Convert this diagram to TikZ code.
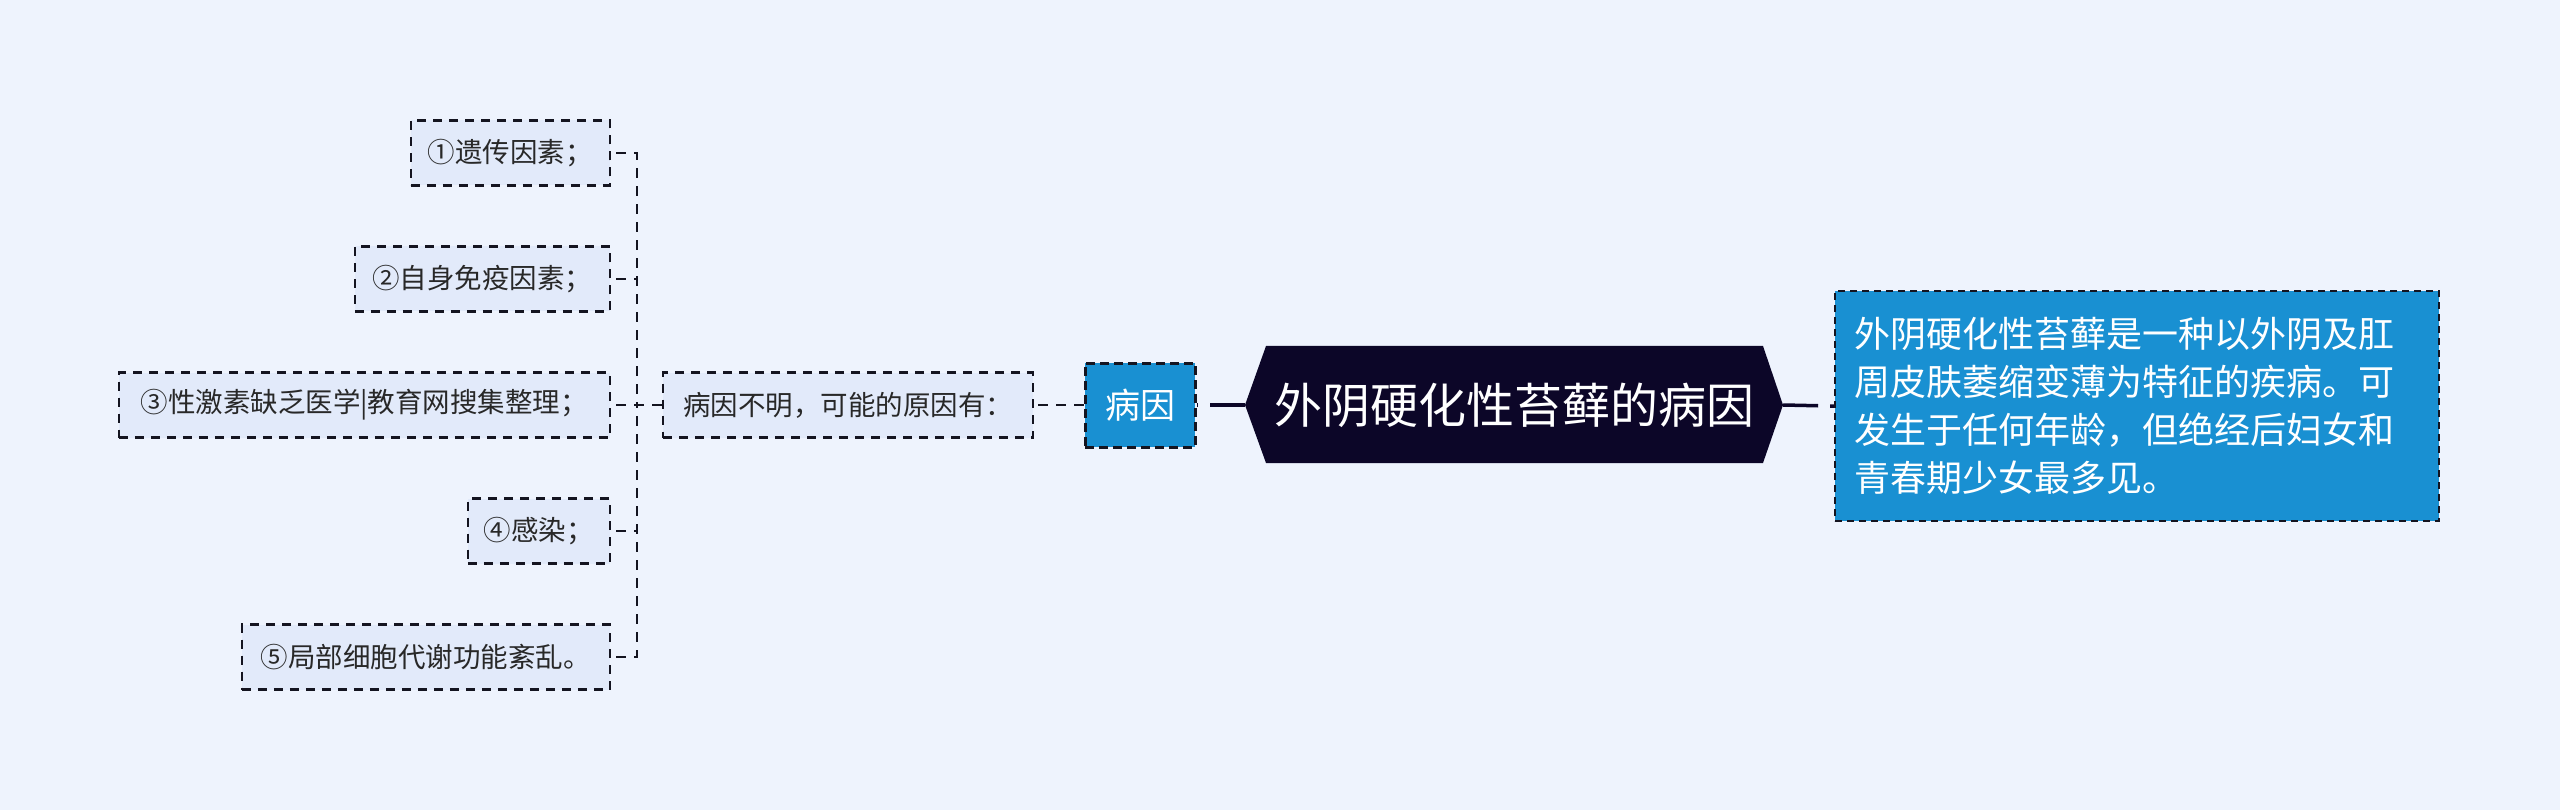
\documentclass[tikz,border=0pt]{standalone}
\usepackage{fontspec}
\setmainfont{Noto Sans CJK SC}
\newfontfamily\cjk{Noto Sans CJK SC}
\usetikzlibrary{calc}
\definecolor{bgc}{RGB}{238,243,253}
\definecolor{leaff}{RGB}{226,234,250}
\definecolor{bluef}{RGB}{25,144,210}
\definecolor{rootf}{RGB}{12,6,40}
\definecolor{linec}{RGB}{20,20,32}
\definecolor{leaft}{RGB}{40,40,40}
\begin{document}
\begin{tikzpicture}[x=1pt,y=-1pt,
  leaf/.style={draw=linec, line width=2.5pt, dash pattern=on 9pt off 7pt, fill=leaff,
    minimum height=65pt, inner sep=0pt, text=leaft,
    font=\cjk\fontsize{27.5pt}{33pt}\selectfont},
  conn/.style={draw=linec, line width=2.5pt, dash pattern=on 10pt off 8pt},
  rootconn/.style={draw=rootf, line width=3.5pt, dash pattern=on 35pt off 12pt},
  bluebox/.style={fill=bluef, text=white, draw=linec},
]
\fill[bgc] (0,0) rectangle (2560,810);
\useasboundingbox (0,0) rectangle (2560,810);

% root hexagon
\fill[rootf] (1245,405) -- (1266,346) -- (1763,346) -- (1783,405) -- (1763,463) -- (1266,463) -- cycle;
\node[text=white, minimum width=538pt, minimum height=117pt, inner sep=0pt,
  font=\cjk\fontsize{48pt}{56pt}\selectfont] (title) at (1514,405) {外阴硬化性苔藓的病因};

% 病因
\node[bluebox, line width=3pt, dash pattern=on 9pt off 5pt, minimum width=110pt, minimum height=84pt,
  inner sep=0pt, font=\cjk\fontsize{35pt}{40pt}\selectfont] (bing) at (1140,405) {病因};

% description box
\node[bluebox, line width=2.2pt, dash pattern=on 7pt off 5pt, anchor=north west,
  text width=566pt, inner xsep=19pt, inner ysep=0pt, minimum height=230pt, align=left,
  font=\cjk\fontsize{36pt}{48pt}\selectfont] (desc) at (1834,290)
  {外阴硬化性苔藓是一种以外阴及肛\\周皮肤萎缩变薄为特征的疾病。可\\发生于任何年龄，但绝经后妇女和\\青春期少女最多见。};

% middle
\node[leaf, minimum width=370pt] (mid) at (848,405) {病因不明，可能的原因有：};

% children
\node[leaf, minimum width=199pt, anchor=east] (c1) at (611,153) {①遗传因素；};
\node[leaf, minimum width=255pt, anchor=east] (c2) at (611,279) {②自身免疫因素；};
\node[leaf, minimum width=491pt, anchor=east] (c3) at (611,405) {③性激素缺乏医学|教育网搜集整理；};
\node[leaf, minimum width=142pt, anchor=east] (c4) at (611,531) {④感染；};
\node[leaf, minimum width=368pt, anchor=east] (c5) at (611,657) {⑤局部细胞代谢功能紊乱。};

% connectors
\coordinate (jn) at (637,405);
\draw[conn] (bing.west) -- (mid.east);
\foreach \c in {c1,c2,c3,c4,c5} \draw[conn] (mid.west) -- (jn) |- (\c.east);
\draw[rootconn] (title.west) -- (bing.east);
\draw[rootconn] (title.east) -- (desc.west);
\end{tikzpicture}
\end{document}
